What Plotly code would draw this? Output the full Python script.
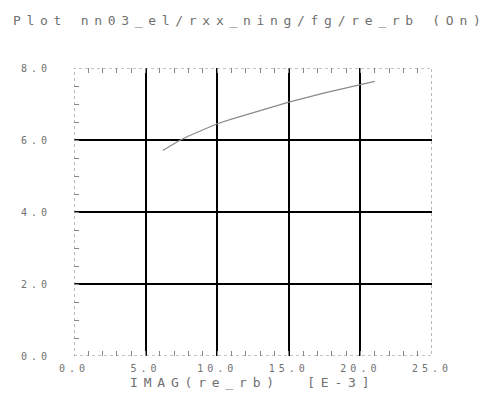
import plotly.graph_objects as go

# Measured trace: imaginary part of re_rb (x, in units of 1e-3) vs. real part
imag_re_rb = [6.2, 6.7, 7.3, 8.0, 9.0, 10.0, 11.0, 12.5, 15.0, 17.5, 20.0, 21.0]
real_re_rb = [5.71, 5.83, 5.97, 6.11, 6.29, 6.45, 6.58, 6.76, 7.05, 7.31, 7.55, 7.63]

x_ticks = [0, 5, 10, 15, 20, 25]
x_tick_labels = ["0.0", "5.0", "10.0", "15.0", "20.0", "25.0"]
y_ticks = [0, 2, 4, 6, 8]
y_tick_labels = ["0.0", "2.0", "4.0", "6.0", "8.0"]

title_text = "Plot nn03_el/rxx_ning/fg/re_rb (On)"
x_title_text = "IMAG(re_rb)  [E-3]"

TEXT_GRAY = "#707070"
FONT = "DejaVu Sans Mono"


def spaced(s, px):
    return f'<span style="letter-spacing:{px}px">{s}</span>'


fig = go.Figure()
fig.add_trace(go.Scatter(
    x=imag_re_rb, y=real_re_rb, mode="lines",
    line=dict(color="#8a8a8a", width=1.2),
    hoverinfo="skip", showlegend=False,
))

fig.update_layout(
    width=495, height=403,
    margin=dict(l=74, r=63, t=68, b=47),
    paper_bgcolor="white", plot_bgcolor="white",
    showlegend=False,
    xaxis=dict(
        range=[0, 25], tickmode="array", tickvals=x_ticks,
        ticktext=[spaced(t, 4) for t in x_tick_labels],
        showgrid=True, gridcolor="black", gridwidth=1.5,
        zeroline=False, showline=False,
        ticks="inside", ticklen=5, tickcolor="#888", tickwidth=1,
        mirror="ticks",
        minor=dict(dtick=1, ticks="inside", ticklen=5, tickcolor="#888",
                   tickwidth=1, showgrid=False),
        tickfont=dict(family=FONT, size=10, color=TEXT_GRAY),
        ticklabelstandoff=5,
    ),
    yaxis=dict(
        range=[0, 8], tickmode="array", tickvals=y_ticks,
        ticktext=[spaced(t, 4) for t in y_tick_labels],
        showgrid=True, gridcolor="black", gridwidth=1.5,
        zeroline=False, showline=False,
        ticks="inside", ticklen=5, tickcolor="#888", tickwidth=1,
        minor=dict(dtick=0.5, ticks="inside", ticklen=5, tickcolor="#888",
                   tickwidth=1, showgrid=False),
        tickfont=dict(family=FONT, size=10, color=TEXT_GRAY),
        ticklabelstandoff=22,
    ),
    shapes=[dict(
        type="rect", xref="x", yref="y", x0=0, x1=25, y0=0, y1=8,
        line=dict(color="#8c8c8c", width=1.2, dash="dot"),
        fillcolor="rgba(0,0,0,0)", layer="above",
    )],
    annotations=[
        dict(text=spaced(title_text, 5.7), xref="paper", yref="paper",
             x=(11 - 74) / 358, y=1, yshift=48, xanchor="left",
             yanchor="middle", showarrow=False,
             font=dict(family=FONT, size=13, color=TEXT_GRAY)),
        dict(text=spaced(x_title_text, 5.8), xref="paper", yref="paper",
             x=(128 - 74) / 358, y=0, yshift=-26, xanchor="left",
             yanchor="middle", showarrow=False,
             font=dict(family=FONT, size=13, color=TEXT_GRAY)),
    ],
)

fig.write_html("out.html")
